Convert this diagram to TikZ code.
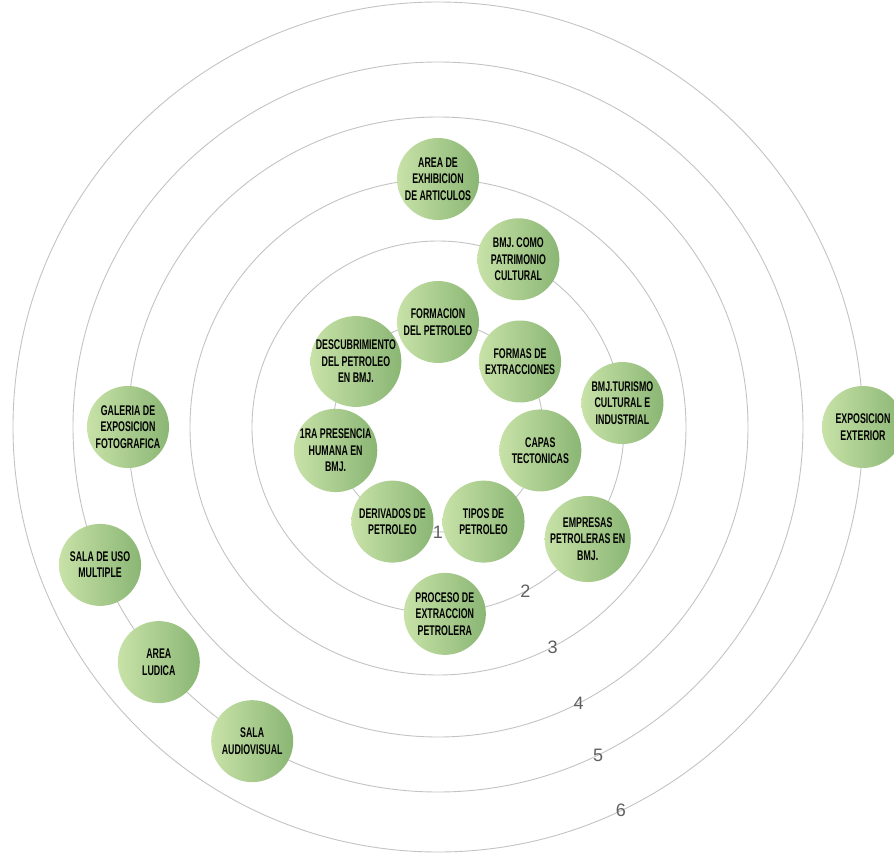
\documentclass[tikz,border=0pt]{standalone}
\usepackage{fontspec}
\setmainfont{Liberation Sans}
\newfontfamily\tagfont{Liberation Sans Bold}[FakeStretch=0.63]
\definecolor{leafL}{RGB}{200,226,168}
\definecolor{leafR}{RGB}{138,182,116}
\definecolor{ringgray}{RGB}{195,195,195}
\definecolor{numgray}{RGB}{95,95,95}
\tikzset{
  ring/.style={draw=ringgray, line width=0.9pt},
  num/.style={text=numgray, font=\fontsize{18}{20}\selectfont, inner sep=1pt},
  tema/.style={circle, minimum size=82pt, inner sep=0pt, align=center,
    left color=leafL, right color=leafR, text=black,
    font=\tagfont\fontsize{14}{16.5}\selectfont}
}
\begin{document}
\begin{tikzpicture}[x=1pt, y=1pt]
    \useasboundingbox (-438,-428) rectangle (456,427);

    % Rings and their numbers
    \foreach \r/\a/\n in {105/-90/1, 186/-62/2, 248/-62.5/3, 310/-63/4, 365/-64/5, 425/-64.5/6} {
        \draw[ring] (0,0) circle (\r);
        \node[num] (num\n) at (\a:\r) {\n};
    }

    % Ring 1
    \node[tema] (formacion) at (90:105) {FORMACION\\DEL PETROLEO};
    \node[tema] (formas) at (38.6:105) {FORMAS DE\\EXTRACCIONES};
    \node[tema] (capas) at (-12.9:105) {CAPAS\\TECTONICAS};
    \node[tema] (tipos) at (-64.3:105) {TIPOS DE\\PETROLEO};
    \node[tema] (derivados) at (-115.7:105) {DERIVADOS DE\\PETROLEO};
    \node[tema] (presencia) at (-167.1:105) {1RA PRESENCIA\\HUMANA EN\\BMJ.};
    \node[tema] (descubrimiento) at (141.4:105) {DESCUBRIMIENTO\\DEL PETROLEO\\EN BMJ.};

    % Ring 2
    \node[tema] (patrimonio) at (64.4:186) {BMJ. COMO\\PATRIMONIO\\CULTURAL};
    \node[tema] (turismo) at (7.4:186) {BMJ.TURISMO\\CULTURAL E\\INDUSTRIAL};
    \node[tema] (empresas) at (-36.8:187) {EMPRESAS\\PETROLERAS EN\\BMJ.};
    \node[tema] (proceso) at (-87.9:187) {PROCESO DE\\EXTRACCION\\PETROLERA};

    % Rings 3 and 4
    \node[tema] (exhibicion) at (90:248) {AREA DE\\EXHIBICION\\DE ARTICULOS};
    \node[tema] (galeria) at (180:310) {GALERIA DE\\EXPOSICION\\FOTOGRAFICA};

    % Ring 5
    \node[tema] (multiple) at (202.2:365) {SALA DE USO\\MULTIPLE};
    \node[tema] (ludica) at (220.1:365) {AREA\\LUDICA};
    \node[tema] (audiovisual) at (239.4:365) {SALA\\AUDIOVISUAL};

    % Ring 6
    \node[tema] (exterior) at (0:425) {EXPOSICION\\EXTERIOR};
\end{tikzpicture}
\end{document}
